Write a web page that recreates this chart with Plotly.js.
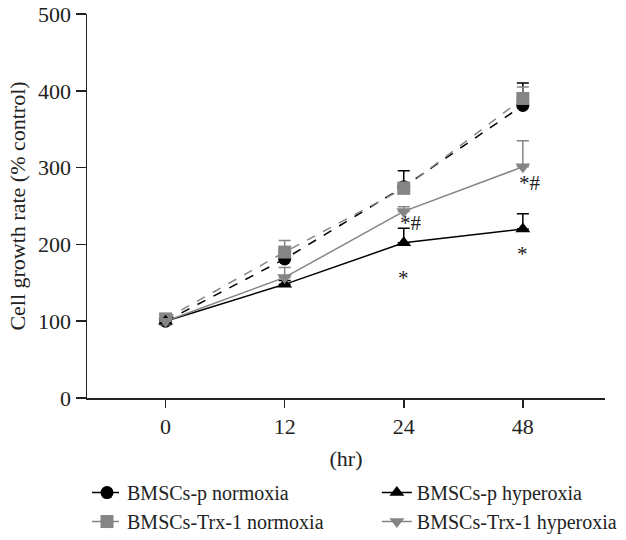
<!DOCTYPE html>
<html>
<head>
<meta charset="utf-8">
<script src="https://cdn.plot.ly/plotly-3.0.1.min.js"></script>
<style>html,body{margin:0;padding:0;background:#fff;}#chart{width:626px;height:540px;}</style>
</head>
<body>
<div id="chart"></div>
<script>
const timepoints = ['0', '12', '24', '48'];

const pNormoxia = [100, 181, 275, 381];
const pNormoxiaErr = [3, 10, 21, 29];

const trxNormoxia = [103, 190, 273, 390];
const trxNormoxiaErr = [3, 15, 8, 15];

const pHyperoxia = [100, 148, 202, 220];
const pHyperoxiaErr = [3, 5, 19, 20];

const trxHyperoxia = [100, 157, 243, 301];
const trxHyperoxiaErr = [3, 13, 6, 34];

const pHyperoxiaSig = ['', '', '*', '*'];
const pHyperoxiaSigY = [null, null, 156, 187];
const trxHyperoxiaSig = ['', '', '*#', '*#'];
const trxHyperoxiaSigY = [null, null, 228, 280];

const BLACK = '#000000';
const GRAY = '#858585';
const FONT = 'Liberation Serif, DejaVu Serif, serif';

function series(name, y, err, color, symbol, dash, legend) {
  return {
    type: 'scatter', mode: 'lines+markers', name: name, legend: legend,
    x: timepoints, y: y,
    line: {color: color, width: 1.5, dash: dash},
    marker: {color: color, symbol: symbol, size: 13},
    error_y: {type: 'data', symmetric: false, array: err,
              arrayminus: err.map(() => 0), color: color, thickness: 1.5, width: 6},
    cliponaxis: false
  };
}

const traces = [
  series('BMSCs-p normoxia', pNormoxia, pNormoxiaErr, BLACK, 'circle', 'dash', 'legend'),
  series('BMSCs-Trx-1 normoxia', trxNormoxia, trxNormoxiaErr, GRAY, 'square', 'dash', 'legend'),
  series('BMSCs-p hyperoxia', pHyperoxia, pHyperoxiaErr, BLACK, 'triangle-up', 'solid', 'legend2'),
  series('BMSCs-Trx-1 hyperoxia', trxHyperoxia, trxHyperoxiaErr, GRAY, 'triangle-down', 'solid', 'legend2')
];

const annotations = [];
timepoints.forEach((t, i) => {
  if (pHyperoxiaSig[i]) annotations.push({x: i, y: pHyperoxiaSigY[i], text: pHyperoxiaSig[i],
    xanchor: 'center', yanchor: 'middle', showarrow: false, xref: 'x', yref: 'y',
    font: {family: FONT, size: 21, color: '#222'}});
  if (trxHyperoxiaSig[i]) annotations.push({x: i, y: trxHyperoxiaSigY[i], text: trxHyperoxiaSig[i],
    xanchor: 'left', yanchor: 'middle', xshift: -6, showarrow: false, xref: 'x', yref: 'y',
    font: {family: FONT, size: 21, color: '#222'}});
});

const legendBase = {orientation: 'h', xref: 'container', yref: 'container', y: 0.124, yanchor: 'top',
  xanchor: 'left', entrywidth: 244, itemwidth: 30, tracegroupgap: 0, traceorder: 'normal',
  bgcolor: 'rgba(0,0,0,0)', font: {family: FONT, size: 20, color: '#222'}};

const layout = {
  width: 626, height: 540,
  margin: {l: 87, r: 21, t: 14, b: 142},
  paper_bgcolor: '#fff', plot_bgcolor: '#fff',
  font: {family: FONT, size: 22, color: '#222'},
  showlegend: true,
  legend: Object.assign({}, legendBase, {x: 0.139}),
  legend2: Object.assign({}, legendBase, {x: 0.602}),
  xaxis: {type: 'category', range: [-0.66, 3.69], showline: true, linecolor: '#222', linewidth: 1.5,
          ticks: 'outside', ticklen: 8, tickwidth: 1.5, tickcolor: '#222', showgrid: false, zeroline: false,
          tickfont: {size: 22},
          title: {text: '(hr)', standoff: 12, font: {family: FONT, size: 22}}},
  yaxis: {range: [0, 500], dtick: 100, showline: true, linecolor: '#222', linewidth: 1.5,
          ticks: 'outside', ticklen: 10, tickwidth: 1.5, tickcolor: '#222', showgrid: false, zeroline: false,
          tickfont: {size: 22},
          title: {text: 'Cell growth rate (% control)', standoff: 6, font: {family: FONT, size: 22}}},
  annotations: annotations
};

Plotly.newPlot('chart', traces, layout, {displayModeBar: false, staticPlot: true});
</script>
</body>
</html>
